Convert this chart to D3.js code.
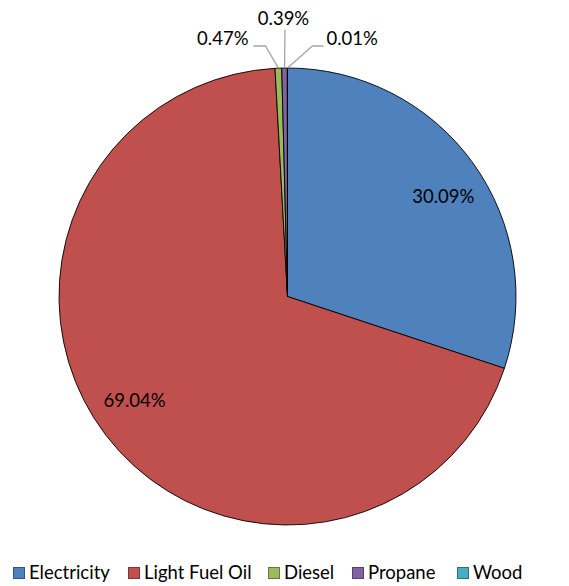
<!DOCTYPE html>
<html lang="en">
  <head>
    <meta charset="UTF-8" />
    <title>Energy share</title>
    <script src="https://cdn.jsdelivr.net/npm/d3@7"></script>
    <style>
      html,
      body {
        margin: 0;
        padding: 0;
        background: #fff;
      }
      text {
        font-family: Lato, 'Open Sans', sans-serif;
        fill: #000;
      }
    </style>
  </head>
  <body>
    <script>
      const categories = ['Electricity', 'Light Fuel Oil', 'Diesel', 'Propane', 'Wood'];
      const values = [30.09, 69.04, 0.47, 0.39, 0.01];
      const colors = ['#4f81bd', '#c0504d', '#9bbb59', '#8064a2', '#4bacc6'];

      const width = 569,
        height = 586,
        cx = 287.5,
        cy = 296.5,
        radius = 228.5;

      const data = categories.map((c, i) => ({ name: c, value: values[i], color: colors[i] }));

      const svg = d3
        .select('body')
        .append('svg')
        .attr('width', width)
        .attr('height', height);

      const g = svg.append('g').attr('transform', `translate(${cx}, ${cy})`);

      const pie = d3.pie().value(d => d.value).sort(null);
      const arcs = pie(data);

      const arc = d3.arc().innerRadius(0).outerRadius(radius);

      g.selectAll('path.slice')
        .data(arcs)
        .join('path')
        .attr('class', 'slice')
        .attr('d', arc)
        .style('fill', d => d.data.color)
        .style('stroke', '#000')
        .style('stroke-width', 0.9)
        .style('stroke-linejoin', 'round');

      // big slices: labels inside, nudged a little clockwise like Excel does
      const labelR = radius * 0.81,
        nudge = 0.055;
      g.selectAll('text.inside')
        .data(arcs.filter(d => d.data.value > 5))
        .join('text')
        .attr('class', 'inside')
        .attr('transform', d => {
          const a = (d.startAngle + d.endAngle) / 2 + nudge;
          return `translate(${labelR * Math.sin(a)}, ${-labelR * Math.cos(a)})`;
        })
        .attr('text-anchor', 'middle')
        .attr('dy', '0.35em')
        .style('font-size', '18.5px')
        .text(d => d.data.value.toFixed(2) + '%');

      // small slices: labels outside with leader lines
      // offsets of each label relative to the pie centre
      const small = arcs.filter(d => d.data.value < 5);
      const leaders = {
        Diesel: { knee: [-22, -250.5], end: [-34, -250.5], anchor: 'end', text: [-39, -257.5] },
        Propane: { knee: [-2.5, -267], end: [-2.5, -267], anchor: 'middle', text: [-4, -277.5] },
        Wood: { knee: [25, -250.5], end: [36, -250.5], anchor: 'start', text: [39, -257.5] },
      };

      small.forEach(d => {
        const l = leaders[d.data.name];
        const a = (d.startAngle + d.endAngle) / 2;
        const p0 = [radius * Math.sin(a), -radius * Math.cos(a)];
        g.append('polyline')
          .attr('points', [p0, l.knee, l.end].map(p => p.join(',')).join(' '))
          .style('fill', 'none')
          .style('stroke', '#a6a6a6')
          .style('stroke-width', 1.3);
        g.append('text')
          .attr('x', l.text[0])
          .attr('y', l.text[1])
          .attr('text-anchor', l.anchor)
          .attr('dy', '0.35em')
          .style('font-size', '18.5px')
          .text(d.data.value.toFixed(2) + '%');
      });

      // legend
      const legendX = [13, 128, 268, 352, 457];
      const legend = svg
        .append('g')
        .selectAll('g')
        .data(data)
        .join('g')
        .attr('transform', (d, i) => `translate(${legendX[i]}, 573)`);

      legend
        .append('rect')
        .attr('x', 0.5)
        .attr('y', -5.5)
        .attr('width', 11)
        .attr('height', 11)
        .style('fill', d => d.color)
        .style('stroke', d => d3.color(d.color).darker(1.2))
        .style('stroke-width', 1);

      legend
        .append('text')
        .attr('x', 16)
        .attr('dy', '0.35em')
        .style('font-size', '18.5px')
        .text(d => d.name);
    </script>
  </body>
</html>
